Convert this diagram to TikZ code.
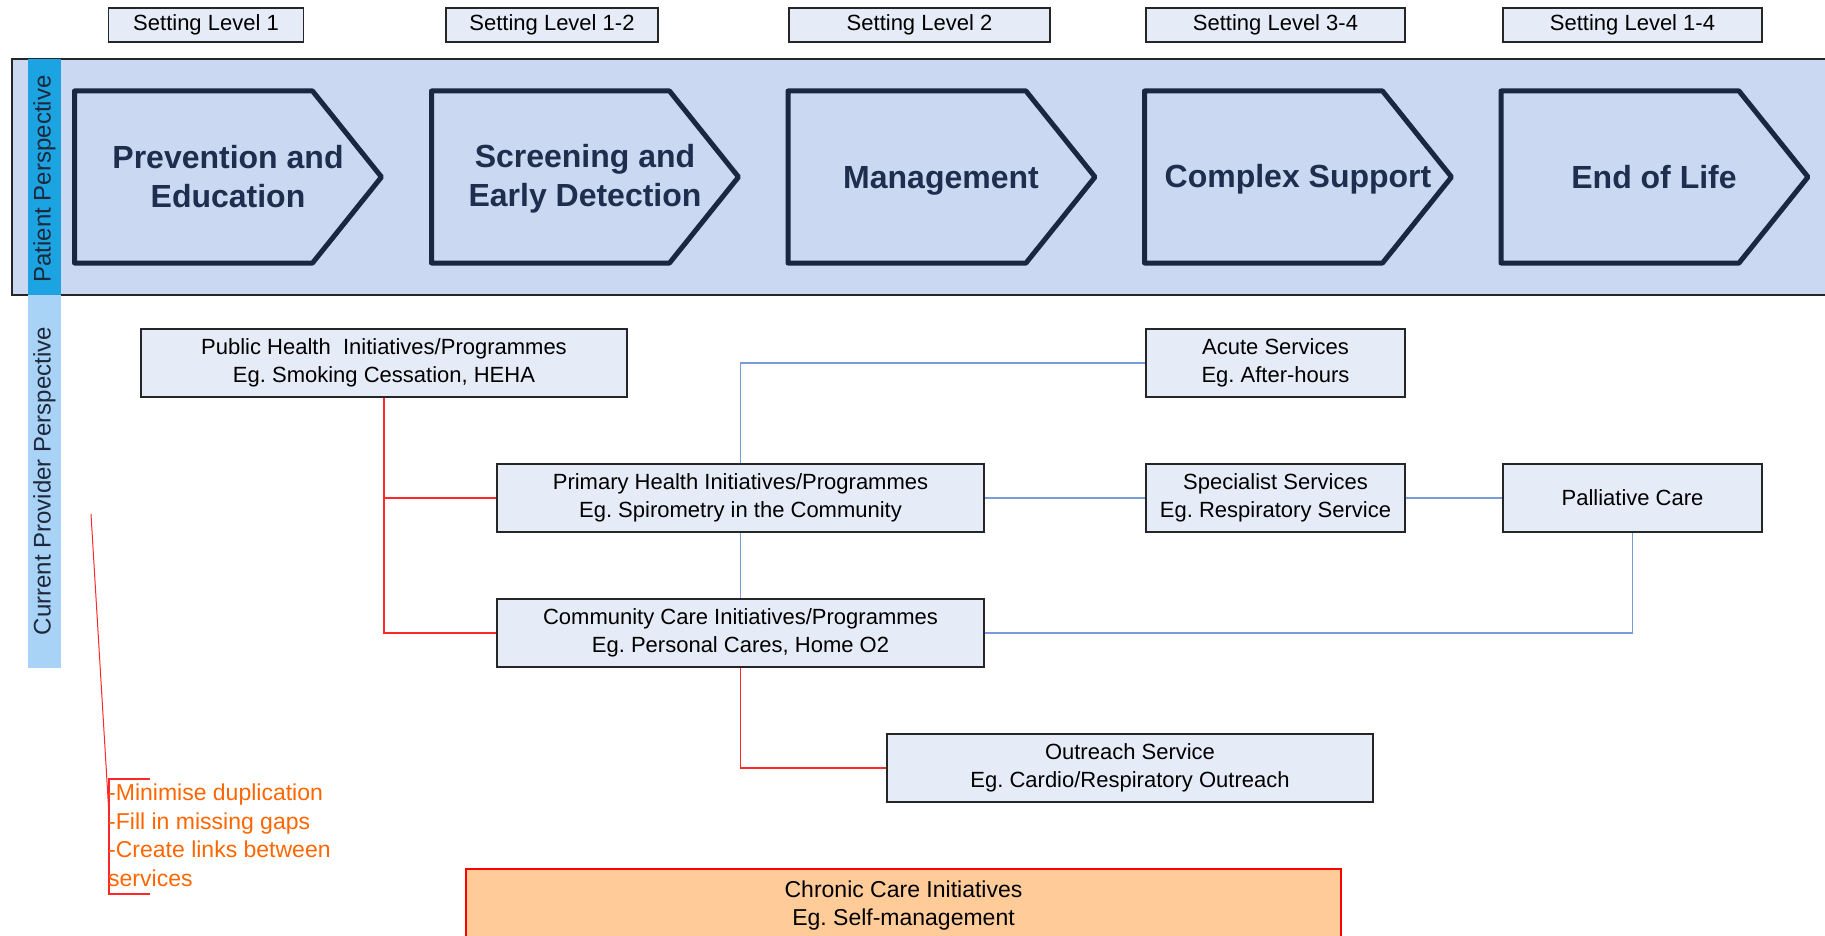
\documentclass[tikz,border=0pt]{standalone}
\usepackage{fontspec}
\setmainfont{Liberation Sans}
\frenchspacing
\definecolor{boxfill}{RGB}{230,236,247}
\definecolor{bandfill}{RGB}{202,217,241}
\definecolor{stripdark}{RGB}{27,163,226}
\definecolor{striplight}{RGB}{168,211,246}
\definecolor{chevc}{RGB}{27,38,64}
\definecolor{chevtext}{RGB}{31,45,78}
\definecolor{bluelink}{RGB}{120,156,214}
\definecolor{redlink}{RGB}{255,40,40}
\definecolor{orangetxt}{RGB}{255,102,0}
\definecolor{peach}{RGB}{255,204,153}
\definecolor{sidetext}{RGB}{30,40,58}
\begin{document}
\begin{tikzpicture}[x=1pt,y=-1pt,
  box/.style={draw=black!85, line width=1.4pt, fill=boxfill, inner sep=0pt, align=center,
    font=\fontsize{22}{28}\selectfont},
  setbox/.style={box, minimum width=195, minimum height=34},
  svc/.style={box, minimum height=68},
  chevtxt/.style={font=\fontsize{32}{39}\selectfont\bfseries, text=chevtext, align=center},
  chevpath/.style={draw=chevc, line width=5pt, line join=round},
  side/.style={rotate=90, font=\fontsize{24}{28}\selectfont, text=sidetext},
  blink/.style={draw=bluelink, line width=1.3pt},
  rlink/.style={draw=redlink, line width=1.3pt},
  ]
\useasboundingbox (0,0) rectangle (1825,936);
% band
\fill[bandfill] (12,59) rectangle (1830,295);
\draw[black!85, line width=1.4pt] (1830,59) -- (12,59) -- (12,295) -- (1830,295);
% side strip
\fill[stripdark] (28,59) rectangle (61,295);
\fill[striplight] (28,295) rectangle (61,668);
\node[side] (pp) at (44.5,179) {Patient Perspective};
\node[side] (cpp) at (44.5,481) {Current Provider Perspective};
% setting levels
\node[setbox] (s1) at (206,25) {Setting Level 1};
\node[setbox, minimum width=212] (s2) at (552,25) {Setting Level 1-2};
\node[setbox, minimum width=261] (s3) at (919.5,25) {Setting Level 2};
\node[setbox, minimum width=259] (s4) at (1275.5,25) {Setting Level 3-4};
\node[setbox, minimum width=259] (s5) at (1632.5,25) {Setting Level 1-4};
% chevrons
\foreach \x in {74.5,431.5,788,1144.5,1501} {
  \draw[chevpath] (\x,91) -- (\x+238,91) -- (\x+307,177) -- (\x+238,263) -- (\x,263) -- cycle;
}
\node[chevtxt] (c1) at (228,177) {Prevention and\\Education};
\node[chevtxt] (c2) at (585,179) {Screening and\\Early Detection};
\node[chevtxt] (c3) at (941,181) {Management};
\node[chevtxt] (c4) at (1298,179.5) {Complex Support};
\node[chevtxt] (c5) at (1654,177) {End of Life};
% service boxes
\node[svc, minimum width=486] (pub) at (384,363) {Public Health\ \ Initiatives/Programmes\\Eg. Smoking Cessation, HEHA};
\node[svc, minimum width=487] (pri) at (740.5,498) {Primary Health Initiatives/Programmes\\Eg. Spirometry in the Community};
\node[svc, minimum width=487] (com) at (740.5,633) {Community Care Initiatives/Programmes\\Eg. Personal Cares, Home O2};
\node[svc, minimum width=486] (out) at (1130,768) {Outreach Service\\Eg. Cardio/Respiratory Outreach};
\node[svc, minimum width=259] (acu) at (1275.5,363) {Acute Services\\Eg. After-hours};
\node[svc, minimum width=259] (spe) at (1275.5,498) {Specialist Services\\Eg. Respiratory Service};
\node[svc, minimum width=259] (pal) at (1632.5,498) {Palliative Care};
\node[draw=red, line width=1.4pt, fill=peach, inner sep=0pt, minimum width=875, minimum height=74,
  align=center, font=\fontsize{23}{28}\selectfont] (chr) at (903.5,906) {Chronic Care Initiatives\\Eg. Self-management};
% red links
\coordinate (r1) at (pub.south |- pri.west);
\coordinate (r2) at (pub.south |- com.west);
\draw[rlink] (pub.south) -- (r2) -- (com.west);
\draw[rlink] (r1) -- (pri.west);
\coordinate (r3) at (com.south |- out.west);
\draw[rlink] (com.south) -- (r3) -- (out.west);
% blue links
\coordinate (b1) at (pri.north |- acu.west);
\draw[blink] (pri.north) -- (b1) -- (acu.west);
\draw[blink] (pri.east) -- (spe.west);
\draw[blink] (spe.east) -- (pal.west);
\draw[blink] (pri.south) -- (com.north);
\coordinate (b2) at (pal.south |- com.east);
\draw[blink] (com.east) -- (b2) -- (pal.south);
% notes
\coordinate (n0) at (91,514);
\coordinate (n1) at (109,815);
\draw[rlink, line width=1pt] (n0) -- (n1);
\draw[rlink, line width=1.2pt] (150,779) -- (109,779) -- (109,894) -- (150,894);
\node[anchor=north west, inner sep=0pt, align=left, text=orangetxt,
  font=\fontsize{23}{28.5}\selectfont] (notes) at (108,784)
  {-Minimise duplication\\-Fill in missing gaps\\-Create links between\\services};
\end{tikzpicture}
\end{document}
